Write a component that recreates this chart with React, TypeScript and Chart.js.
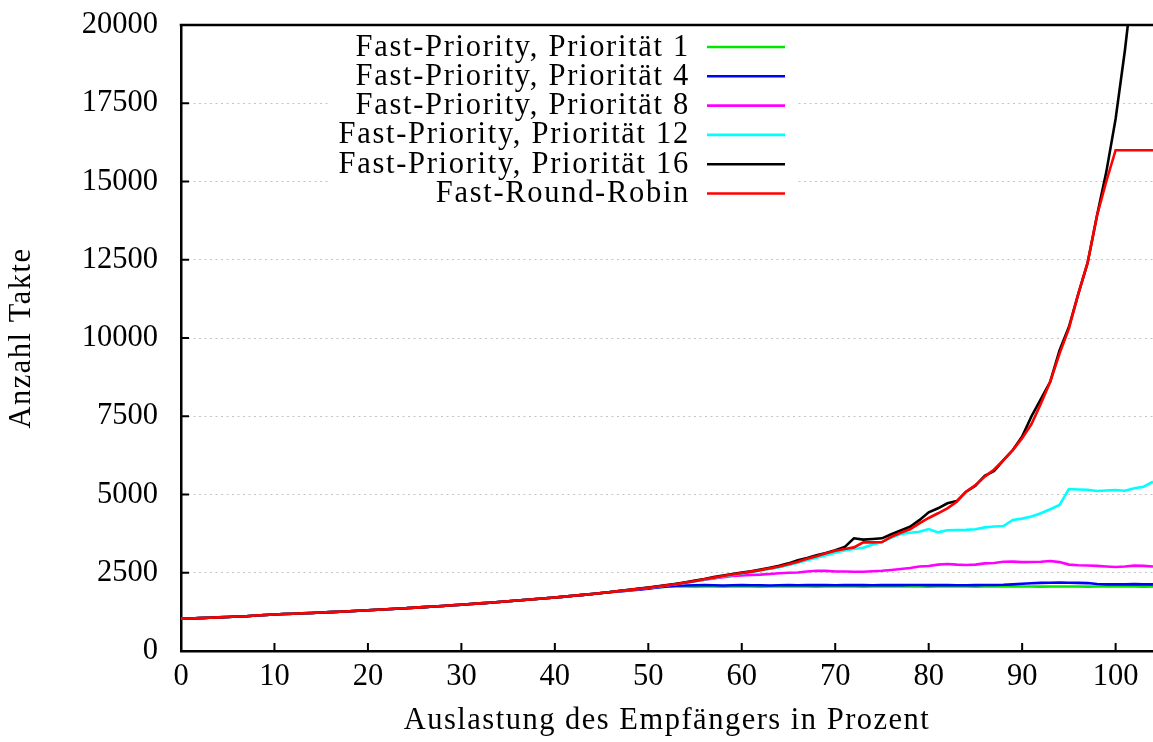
import React, { useEffect, useRef } from "react";
import { Chart, registerables } from "chart.js";
Chart.register(...registerables);

// x: Auslastung (Prozent)
const X = [
  0, 1, 2, 3, 4, 5, 6, 7, 8, 9, 10, 11, 12, 13, 14, 15, 16, 17, 18, 19, 20,
  21, 22, 23, 24, 25, 26, 27, 28, 29, 30, 31, 32, 33, 34, 35, 36, 37, 38, 39, 40,
  41, 42, 43, 44, 45, 46, 47, 48, 49, 50, 51, 52, 53, 54, 55, 56, 57, 58, 59, 60,
  61, 62, 63, 64, 65, 66, 67, 68, 69, 70, 71, 72, 73, 74, 75, 76, 77, 78, 79, 80,
  81, 82, 83, 84, 85, 86, 87, 88, 89, 90, 91, 92, 93, 94, 95, 96, 97, 98, 99, 100,
  101, 102, 103, 104,
];

// shared part, x = 0..46
const COMMON = [
  1030, 1040, 1050, 1062, 1075, 1088, 1100, 1112, 1135, 1150,
  1165, 1180, 1192, 1205, 1216, 1228, 1242, 1256, 1271, 1287,
  1303, 1320, 1336, 1352, 1368, 1385, 1402, 1420, 1440, 1460,
  1480, 1500, 1522, 1544, 1566, 1590, 1612, 1636, 1660, 1685,
  1710, 1736, 1764, 1792, 1822, 1852, 1886,
];

// tails, x = 47..104
const P1_TAIL = [
  1915, 1945, 1978, 2010, 2040, 2055, 2060, 2060, 2058, 2060,
  2060, 2058, 2060, 2062, 2060, 2058, 2060, 2060, 2062, 2060,
  2060, 2058, 2060, 2060, 2062, 2060, 2058, 2060, 2060, 2060,
  2062, 2060, 2060, 2058, 2060, 2060, 2062, 2060, 2058, 2060,
  2060, 2060, 2062, 2060, 2060, 2058, 2060, 2062, 2060, 2060,
  2058, 2060, 2060, 2062, 2060, 2060, 2058, 2060,
];
const P4_TAIL = [
  1905, 1935, 1962, 1992, 2030, 2065, 2085, 2095, 2100, 2105,
  2100, 2095, 2100, 2105, 2100, 2100, 2095, 2100, 2105, 2100,
  2105, 2110, 2105, 2100, 2105, 2110, 2105, 2100, 2105, 2110,
  2105, 2110, 2110, 2105, 2110, 2105, 2100, 2100, 2105, 2110,
  2110, 2115, 2130, 2150, 2165, 2175, 2180, 2185, 2180, 2175,
  2170, 2140, 2130, 2130, 2130, 2135, 2130, 2130,
];
const P8_TAIL = [
  1918, 1950, 1984, 2018, 2055, 2095, 2135, 2180, 2228, 2275,
  2320, 2360, 2395, 2415, 2428, 2440, 2460, 2485, 2500, 2510,
  2540, 2566, 2560, 2540, 2540, 2530, 2534, 2550, 2566, 2590,
  2620, 2650, 2700, 2716, 2760, 2780, 2760, 2750, 2760, 2800,
  2810, 2850, 2855, 2840, 2845, 2850, 2875, 2840, 2760, 2740,
  2730, 2720, 2700, 2684, 2700, 2727, 2720, 2700,
];
const P12_TAIL = [
  1920, 1952, 1986, 2022, 2058, 2098, 2138, 2180, 2230, 2280,
  2335, 2385, 2430, 2475, 2520, 2570, 2625, 2680, 2750, 2820,
  2900, 2980, 3060, 3140, 3210, 3260, 3300, 3400, 3470, 3620,
  3740, 3780, 3812, 3898, 3790, 3860, 3866, 3870, 3890, 3950,
  3980, 3994, 4185, 4230, 4300, 4400, 4527, 4665, 5176, 5160,
  5150, 5112, 5130, 5144, 5122, 5198, 5250, 5410,
];
const P16_TAIL = [
  1925, 1958, 1992, 2030, 2068, 2108, 2150, 2195, 2248, 2300,
  2360, 2410, 2460, 2505, 2545, 2600, 2660, 2720, 2800, 2900,
  2970, 3060, 3130, 3220, 3320, 3600, 3560, 3580, 3600, 3730,
  3850, 3970, 4180, 4430, 4560, 4720, 4790, 5090, 5280, 5600,
  5750, 6100, 6420, 6850, 7500, 8050, 8600, 9600, 10350, 11400,
  12400, 13900, 15300, 17000, 19200, 21800, 24500, 27000,
];
const RR_TAIL = [
  1920, 1952, 1986, 2022, 2060, 2100, 2140, 2186, 2236, 2290,
  2345, 2395, 2445, 2490, 2535, 2585, 2640, 2700, 2770, 2850,
  2950, 3030, 3120, 3200, 3260, 3310, 3470, 3470, 3480, 3650,
  3780, 3890, 4080, 4250, 4400, 4560, 4770, 5090, 5300, 5570,
  5800, 6100, 6420, 6800, 7250, 7900, 8600, 9500, 10300, 11400,
  12400, 13900, 15000, 16000, 16000, 16000, 16000, 16000,
];

const LABELS = [
  "Fast-Priority, Priorität 1",
  "Fast-Priority, Priorität 4",
  "Fast-Priority, Priorität 8",
  "Fast-Priority, Priorität 12",
  "Fast-Priority, Priorität 16",
  "Fast-Round-Robin",
];
const COLORS = ["#00e800", "#0000ff", "#ff00ff", "#00ffff", "#000000", "#ff0000"];
const TAILS = [P1_TAIL, P4_TAIL, P8_TAIL, P12_TAIL, P16_TAIL, RR_TAIL];

const X_TICKS = [0, 10, 20, 30, 40, 50, 60, 70, 80, 90, 100];
const Y_TICKS = [0, 2500, 5000, 7500, 10000, 12500, 15000, 17500, 20000];
const X_TITLE = "Auslastung des Empfängers in Prozent";
const Y_TITLE = "Anzahl Takte";

const FONT_FAMILY = '"Liberation Serif", "Times New Roman", serif';
const FONT_SIZE = 30.5;
const TEXT_FONT = `${FONT_SIZE}px ${FONT_FAMILY}`;

const decor = {
  id: "decor",
  afterDraw(chart: any) {
    const { ctx, chartArea: a, scales } = chart;
    const xs = scales.x;
    const ys = scales.y;
    ctx.save();

    // legend (opaque key box)
    ctx.font = TEXT_FONT;
    (ctx as any).letterSpacing = "1.7px";
    const textRight = a.left + 509;
    const lineX1 = a.left + 526;
    const lineX2 = a.left + 604;
    const row0 = a.top + 22;
    const rowStep = 29.3;
    const dsets = chart.data.datasets;
    let maxW = 0;
    dsets.forEach((ds: any) => {
      maxW = Math.max(maxW, ctx.measureText(ds.label).width);
    });
    ctx.fillStyle = "#fff";
    ctx.fillRect(
      textRight - maxW - 8,
      a.top + 2,
      lineX2 + 10 - (textRight - maxW - 8),
      row0 + (dsets.length - 1) * rowStep + 14 - (a.top + 2)
    );
    ctx.fillStyle = "#000";
    ctx.textAlign = "right";
    ctx.textBaseline = "alphabetic";
    dsets.forEach((ds: any, i: number) => {
      const yy = row0 + i * rowStep;
      ctx.fillText(ds.label, textRight, yy + 8.5);
      ctx.strokeStyle = ds.borderColor;
      ctx.lineWidth = 2.6;
      ctx.beginPath();
      ctx.moveTo(lineX1, yy);
      ctx.lineTo(lineX2, yy);
      ctx.stroke();
    });

    // top frame line
    ctx.strokeStyle = "#000";
    ctx.lineWidth = 2.5;
    ctx.beginPath();
    ctx.moveTo(a.left - 1.25, a.top);
    ctx.lineTo(a.right, a.top);
    ctx.stroke();
    // inward tick marks
    ctx.lineWidth = 2;
    ctx.beginPath();
    for (const v of Y_TICKS) {
      const py = ys.getPixelForValue(v);
      ctx.moveTo(a.left, py);
      ctx.lineTo(a.left + 8, py);
    }
    for (const v of X_TICKS) {
      const px = xs.getPixelForValue(v);
      ctx.moveTo(px, a.bottom);
      ctx.lineTo(px, a.bottom - 8);
    }
    ctx.stroke();

    // axis titles
    (ctx as any).letterSpacing = "1.5px";
    ctx.fillStyle = "#000";
    ctx.textAlign = "center";
    ctx.textBaseline = "middle";
    ctx.fillText(X_TITLE, (a.left + a.right) / 2, 721);
    ctx.save();
    ctx.translate(22, (a.top + a.bottom) / 2);
    ctx.rotate(-Math.PI / 2);
    ctx.fillText(Y_TITLE, 0, 0);
    ctx.restore();
    ctx.restore();
  },
};

export default function App() {
  const ref = useRef<HTMLCanvasElement | null>(null);
  useEffect(() => {
    const canvas = ref.current;
    if (!canvas) return;
    const orders = [5, 4, 3, 2, 1, 0];
    const datasets = LABELS.map((label, i) => {
      const ys = COMMON.concat(TAILS[i]);
      return {
        label,
        data: X.map((x, k) => ({ x, y: ys[k] })),
        borderColor: COLORS[i],
        backgroundColor: COLORS[i],
        borderWidth: 2.6,
        pointRadius: 0,
        tension: 0,
        fill: false,
        order: orders[i],
      };
    });
    const tickFont = { family: FONT_FAMILY, size: FONT_SIZE, lineHeight: 1.2 };
    const chart = new Chart(canvas, {
      type: "line",
      data: { datasets },
      options: {
        animation: false,
        responsive: false,
        devicePixelRatio: 1,
        layout: { padding: { top: 25, right: 0, bottom: 0, left: 0 } },
        plugins: { legend: { display: false }, tooltip: { enabled: false } },
        scales: {
          x: {
            type: "linear",
            min: 0,
            max: 104,
            afterFit: (s: any) => {
              s.height = 91;
            },
            afterBuildTicks: (s: any) => {
              s.ticks = X_TICKS.map((v) => ({ value: v }));
            },
            ticks: {
              color: "#000",
              font: tickFont,
              padding: 8,
              maxRotation: 0,
              autoSkip: false,
              callback: (v: any) => String(v),
            },
            grid: { display: false, drawTicks: false },
            border: { display: true, color: "#000", width: 2.5 },
          },
          y: {
            type: "linear",
            min: 0,
            max: 20000,
            afterFit: (s: any) => {
              s.width = 181;
            },
            afterBuildTicks: (s: any) => {
              s.ticks = Y_TICKS.map((v) => ({ value: v }));
            },
            ticks: {
              color: "#000",
              font: tickFont,
              padding: 0,
              autoSkip: false,
              callback: (v: any) => String(v),
            },
            grid: {
              display: true,
              drawTicks: true,
              tickLength: 23,
              tickColor: "rgba(0,0,0,0)",
              color: "#c4c4c4",
              lineWidth: 1,
            },
            border: { display: true, color: "#000", width: 2.5, dash: [2, 3.5] },
          },
        },
      },
      plugins: [decor],
    });
    return () => chart.destroy();
  }, []);
  return (
    <div style={{ position: "fixed", left: 0, top: 0, width: 1153, height: 742, background: "#fff" }}>
      <canvas ref={ref} width={1153} height={742} style={{ display: "block" }} />
    </div>
  );
}
